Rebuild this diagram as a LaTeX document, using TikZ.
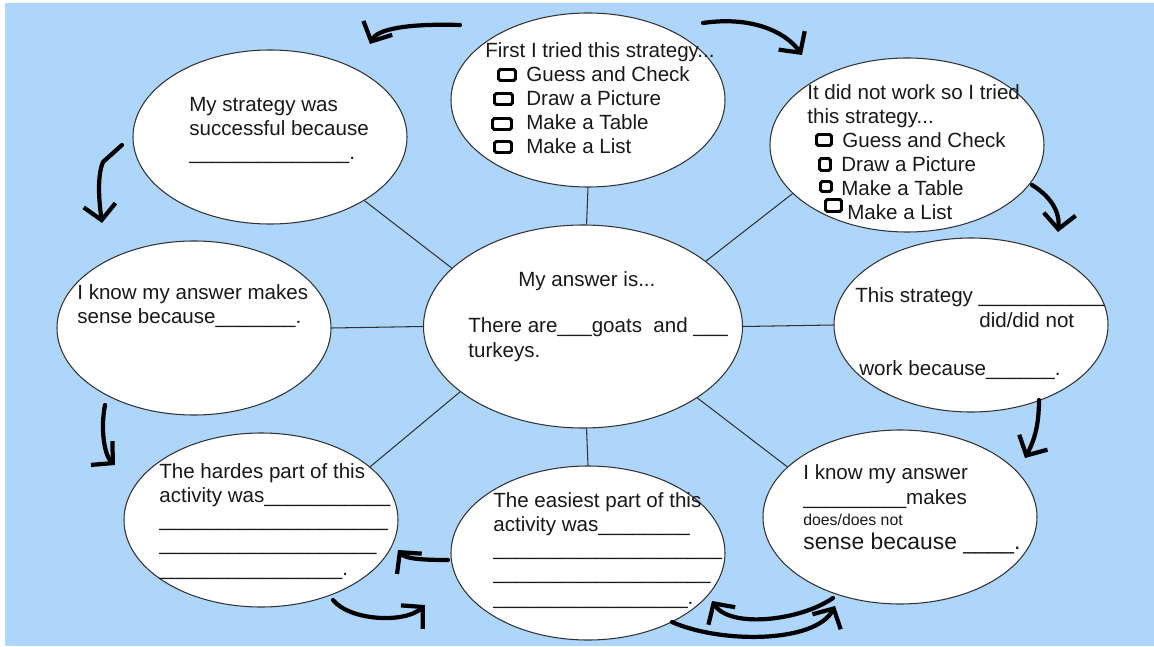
\documentclass[tikz,border=0pt]{standalone}
\usepackage{fontspec}
\setmainfont{Liberation Sans}
\usetikzlibrary{arrows.meta,shapes.geometric}
\definecolor{skybg}{HTML}{AED5FA}
\definecolor{inkline}{HTML}{333333}
\tikzset{
  bubble/.style={ellipse,draw=inkline,fill=white,line width=.6pt,minimum width=5.48cm,minimum height=3.48cm,inner sep=0pt},
  hub/.style={bubble,minimum width=6.38cm,minimum height=4.06cm},
  spoke/.style={draw=inkline,line width=.6pt},
  prompt/.style={anchor=base west,align=left,inner sep=0pt,font=\fontsize{11.7}{13.66}\selectfont,text=black!90},
  tick/.style={draw=black,line width=1.7pt,rounded corners=1pt},
  flow/.style={draw=black,line width=2.4pt,line cap=round,line join=round,-{Straight Barb[length=3mm,width=6.4mm]}},
}
\newcommand\blanks[1]{\foreach\k in {1,...,#1}{\_}}

\begin{document}
\begin{tikzpicture}
  \useasboundingbox (0,0) rectangle (23.08,12.92);
  \fill[skybg] (0.10,0) rectangle (23.08,12.86);

  % ---------------- bubbles ----------------
  \node[hub] (hub) at (11.66,6.39) {};
  \node[bubble] (tc) at (11.76,10.92) {};
  \node[bubble] (tr) at (18.14,10.02) {};
  \node[bubble] (tl) at (5.40,10.18) {};
  \node[bubble] (ml) at (3.88,6.36) {};
  \node[bubble] (mr) at (19.42,6.42) {};
  \node[bubble] (bl) at (5.22,2.52) {};
  \node[bubble] (bc) at (11.76,1.86) {};
  \node[bubble] (br) at (18.00,2.58) {};

  % spokes
  \foreach \a/\n/\b in {88/tc/270, 28/tr/203, 156/tl/326, 180/ml/0, 0/mr/180, 208/bl/26, 272/bc/90, 328/br/156}
    \draw[spoke] (hub.\a) -- (\n.\b);

  % ---------------- texts (placed by the baseline of the last line) ----------------
  \node[prompt] (t1) at (9.70,9.84) {First I tried this strategy...\\\hspace*{.82cm}Guess and Check\\\hspace*{.82cm}Draw a Picture\\\hspace*{.82cm}Make a Table\\\hspace*{.82cm}Make a List};
  \node[prompt] (t2) at (16.14,8.52) {It did not work so I tried\\this strategy...\\\hspace*{.70cm}Guess and Check\\\hspace*{.68cm}Draw a Picture\\\hspace*{.68cm}Make a Table\\\hspace*{.80cm}Make a List};
  \node[prompt] (t3) at (3.78,9.72) {My strategy was\\successful because\\\blanks{14}.};
  \node[prompt] (t4) at (1.54,6.44) {I know my answer makes\\sense because\blanks{7}.};
  \node[prompt] (t5a) at (10.36,7.20) {My answer is...};
  \node[prompt] (t5b) at (9.36,5.78) {There are\blanks{3}goats\ \ and \blanks{3}\\turkeys.};
  \node[prompt] (t6a) at (17.10,6.38) {This strategy \blanks{11}\\\hspace*{2.48cm}did/did not};
  \node[prompt] (t6b) at (17.18,5.42) {work because\blanks{6}.};
  \node[prompt] (t7) at (3.18,1.42) {The hardes part of this\\activity was\blanks{11}\\\blanks{20}\\\blanks{19}\\\blanks{16}.};
  \node[prompt] (t8) at (9.86,0.84) {The easiest part of this\\activity was\blanks{8}\\\blanks{20}\\\blanks{19}\\\blanks{17}.};
  \node[prompt] (t9a) at (16.06,2.84) {I know my answer\\\blanks{9}makes};
  \node[prompt,font=\fontsize{9}{10}\selectfont] (t9b) at (16.06,2.42) {does/does not};
  \node[prompt,font=\fontsize{13}{15}\selectfont] (t9c) at (16.06,1.94) {sense because \blanks{4}.};

  % check boxes
  \foreach \x/\y/\w in {9.97/11.31/.34, 9.89/10.83/.36, 9.85/10.33/.38, 9.89/9.87/.34}
    \draw[tick] (\x,\y) rectangle ++(\w,.22);
  \foreach \x/\y/\w/\h in {16.33/10.01/.30/.22, 16.39/9.51/.22/.24, 16.41/9.09/.22/.20, 16.51/8.69/.32/.24}
    \draw[tick] (\x,\y) rectangle ++(\w,\h);

  % ---------------- hand-drawn turn arrows ----------------
  \coordinate (a1) at (9.20,12.42);  \coordinate (b1) at (7.40,12.04);
  \coordinate (a2) at (14.06,12.46); \coordinate (b2) at (16.04,11.82);
  \coordinate (a3) at (20.64,9.22);  \coordinate (b3) at (21.16,8.28);
  \coordinate (a4) at (20.78,4.92);  \coordinate (b4) at (20.50,3.76);
  \coordinate (a5) at (16.66,0.96);  \coordinate (b5) at (14.24,0.90);
  \coordinate (a6) at (13.44,0.48);  \coordinate (b6) at (16.70,0.80);
  \coordinate (a7) at (8.96,1.72);   \coordinate (b7) at (7.96,1.92);
  \coordinate (a8) at (6.66,0.92);   \coordinate (b8) at (8.50,0.82);
  \coordinate (a9) at (2.10,4.82);   \coordinate (b9) at (2.30,3.62);
  \coordinate (a10) at (2.44,10.02); \coordinate (b10) at (2.04,8.46);
  \draw[flow] (a1) .. controls (8.2,12.45) and (7.55,12.35) .. (b1);
  \draw[flow] (a2) .. controls (15.0,12.6) and (15.7,12.3) .. (b2);
  \draw[flow] (a3) .. controls (21.0,9.0) and (21.2,8.7) .. (b3);
  \draw[flow] (a4) .. controls (20.78,4.4) and (20.68,4.1) .. (b4);
  \draw[flow] (a5) .. controls (16.0,0.5) and (14.6,0.35) .. (b5);
  \draw[flow] (a6) .. controls (14.4,0.05) and (16.3,0.05) .. (b6);
  \draw[flow] (a7) .. controls (8.4,1.72) and (8.1,1.75) .. (b7);
  \draw[flow] (a8) .. controls (7.0,0.5) and (8.1,0.45) .. (b8);
  \draw[flow] (a9) .. controls (2.0,4.3) and (2.1,3.8) .. (b9);
  \draw[flow] (a10) -- (2.06,9.68) .. controls (1.94,9.4) and (1.98,8.9) .. (b10);
\end{tikzpicture}
\end{document}
